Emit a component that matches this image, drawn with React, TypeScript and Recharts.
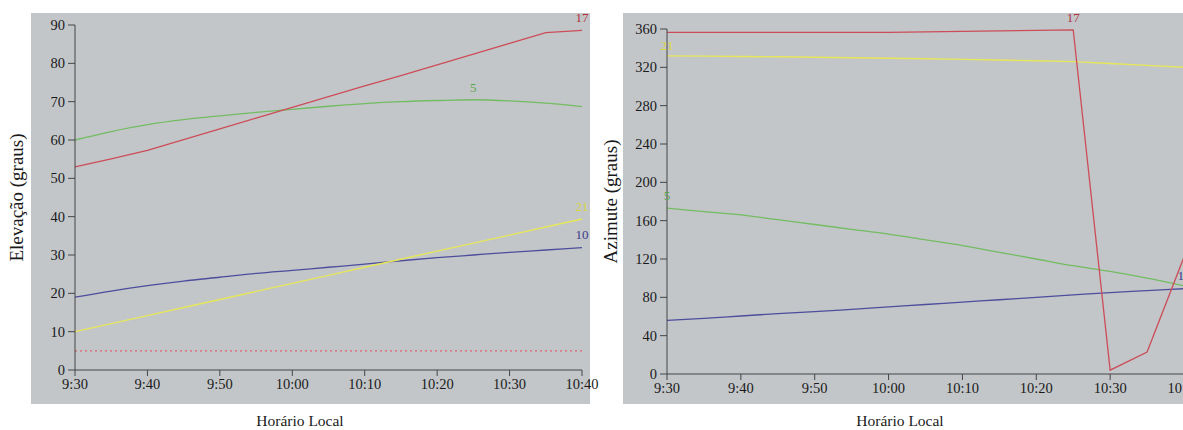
import { LineChart, Line, XAxis, YAxis } from 'recharts'

// minutes after 9:30, one point every 5 min
const minutes = [0, 5, 10, 15, 20, 25, 30, 35, 40, 45, 50, 55, 60, 65, 70]
const majorTicks = [0, 10, 20, 30, 40, 50, 60, 70]
const minorTicks = [0, 5, 10, 15, 20, 25, 30, 35, 40, 45, 50, 55, 60, 65, 70]
const timeLabels = ['9:30', '9:40', '9:50', '10:00', '10:10', '10:20', '10:30', '10:40']

const elevTicks = [0, 10, 20, 30, 40, 50, 60, 70, 80, 90]
const elevMinor = [0, 5, 10, 15, 20, 25, 30, 35, 40, 45, 50, 55, 60, 65, 70, 75, 80, 85, 90]
const azTicks = [0, 40, 80, 120, 160, 200, 240, 280, 320, 360]
const azMinor = [0, 20, 40, 60, 80, 100, 120, 140, 160, 180, 200, 220, 240, 260, 280, 300, 320, 340, 360]

// elevation (graus) per satellite
const elev17 = [53, 55.1, 57.3, 60.1, 62.9, 65.7, 68.5, 71.3, 74.1, 76.8, 79.6, 82.4, 85.2, 88, 88.6]
const elev5 = [60, 62.2, 64, 65.3, 66.3, 67.2, 68, 68.8, 69.5, 70, 70.3, 70.5, 70.2, 69.6, 68.7]
const elev10 = [19, 20.6, 22, 23.2, 24.2, 25.2, 26, 26.8, 27.6, 28.5, 29.3, 30, 30.7, 31.3, 31.9]
const elev21 = [10, 12.1, 14.2, 16.3, 18.4, 20.5, 22.6, 24.7, 26.8, 28.9, 31, 33.1, 35.2, 37.3, 39.4]
const elevMask = [5, 5, 5, 5, 5, 5, 5, 5, 5, 5, 5, 5, 5, 5, 5]

// azimuth (graus) per satellite
const az17 = [356.5, 356.5, 356.5, 356.5, 356.5, 356.5, 356.5, 357, 357.5, 358, 358.5, 359, 4, 23, 122]
const az21 = [332, 331.7, 331.3, 331, 330.5, 330, 329.5, 329, 328.3, 327.6, 326.8, 326, 324, 322, 320]
const az5 = [173, 169.5, 166, 161, 156, 151, 146, 140, 134, 127, 120, 113, 107, 100, 92]
const az10 = [56, 58, 60.5, 63, 65, 67.5, 70, 72.5, 75, 77.5, 80, 82.5, 85, 87, 89]

const RED = '#cc4d58'
const GREEN = '#72bc62'
const YELLOW = '#e6e65a'
const BLUE = '#4d4d9c'
const PANEL = '#c3c6c9'
const AXIS = '#444'
const FONT = '"Liberation Serif", "DejaVu Serif", serif'

const elevData = minutes.map((t, i) => ({
  t,
  s17: elev17[i],
  s5: elev5[i],
  s10: elev10[i],
  s21: elev21[i],
  mask: elevMask[i],
}))

const azData = minutes.map((t, i) => ({
  t,
  s17: az17[i],
  s21: az21[i],
  s5: az5[i],
  s10: az10[i],
}))

const fmtTime = (v: number) => timeLabels[majorTicks.indexOf(v)] ?? ''

// draws the satellite number next to one point of the line
const tagAt = (index: number, text: string, color: string, dy = -8) => (p: any) => {
  if (p.index !== index) return <g key={`d-${p.index}`} />
  return (
    <text key={`d-${p.index}`} x={p.cx} y={p.cy + dy} fill={color} fontSize={13} fontFamily={FONT} textAnchor="middle">
      {text}
    </text>
  )
}

const tickStyle = { fill: '#1a1a1a', fontSize: 14.5, fontFamily: FONT }
const yTitle = { textAnchor: 'middle', fill: '#1a1a1a', fontSize: 19, fontFamily: FONT }

function Panel({ left, width }: { left: number; width: number }) {
  return <div style={{ position: 'absolute', left, top: 13, width, height: 391, background: PANEL }} />
}

function XTitle({ center }: { center: number }) {
  return (
    <div style={{ position: 'absolute', left: center, top: 412, transform: 'translateX(-50%)', fontFamily: FONT, fontSize: 15.5, lineHeight: '18px', color: '#1a1a1a', whiteSpace: 'nowrap' }}>
      Horário Local
    </div>
  )
}

export default function App() {
  return (
    <div style={{ position: 'absolute', left: 0, top: 0, width: 1183, height: 430, overflow: 'hidden', background: '#fff' }}>
      <Panel left={31} width={559} />
      <Panel left={623} width={600} />
      <XTitle center={300} />
      <XTitle center={900} />

      <div style={{ position: 'absolute', left: 0, top: 0 }}>
        <LineChart width={600} height={430} data={elevData} margin={{ top: 25, right: 18, bottom: 0, left: 0 }}>
          <XAxis xAxisId="minor" dataKey="t" type="number" domain={[0, 70]} ticks={minorTicks} tick={false} tickSize={3} height={0} stroke={AXIS} strokeWidth={1.3} />
          <XAxis
            dataKey="t"
            type="number"
            domain={[0, 70]}
            ticks={majorTicks}
            tickFormatter={fmtTime}
            tickSize={6}
            tickMargin={3}
            height={60}
            stroke={AXIS}
            tick={tickStyle}
          />
          <YAxis yAxisId="minor" type="number" domain={[0, 90]} ticks={elevMinor} tick={false} tickSize={3} width={0} stroke={AXIS} strokeWidth={1.3} />
          <YAxis
            type="number"
            domain={[0, 90]}
            ticks={elevTicks}
            tickSize={7}
            tickMargin={3}
            width={75}
            stroke={AXIS}
            tick={tickStyle}
            label={{ value: 'Elevação (graus)', angle: -90, position: 'insideLeft', offset: 16, style: yTitle }}
          />
          <Line dataKey="mask" stroke="#e0606e" strokeWidth={1.2} strokeDasharray="2 3" dot={false} isAnimationActive={false} />
          <Line dataKey="s10" type="monotone" stroke={BLUE} strokeWidth={1.3} dot={tagAt(14, '10', '#3a3a8c', -9)} isAnimationActive={false} />
          <Line dataKey="s21" stroke={YELLOW} strokeWidth={1.4} dot={tagAt(14, '21', '#d8d840', -8)} isAnimationActive={false} />
          <Line dataKey="s5" type="monotone" stroke={GREEN} strokeWidth={1.3} dot={tagAt(11, '5', '#5aa84c', -8)} isAnimationActive={false} />
          <Line dataKey="s17" stroke={RED} strokeWidth={1.3} dot={tagAt(14, '17', '#b3323c', -8)} isAnimationActive={false} />
        </LineChart>
      </div>

      <div style={{ position: 'absolute', left: 592, top: 0 }}>
        <LineChart width={610} height={430} data={azData} margin={{ top: 29, right: 18, bottom: 0, left: 0 }}>
          <XAxis xAxisId="minor" dataKey="t" type="number" domain={[0, 70]} ticks={minorTicks} tick={false} tickSize={3} height={0} stroke={AXIS} strokeWidth={1.3} />
          <XAxis
            dataKey="t"
            type="number"
            domain={[0, 70]}
            ticks={majorTicks}
            tickFormatter={fmtTime}
            tickSize={6}
            tickMargin={3}
            height={56}
            stroke={AXIS}
            tick={tickStyle}
          />
          <YAxis yAxisId="minor" type="number" domain={[0, 360]} ticks={azMinor} tick={false} tickSize={3} width={0} stroke={AXIS} strokeWidth={1.3} />
          <YAxis
            type="number"
            domain={[0, 360]}
            ticks={azTicks}
            tickSize={7}
            tickMargin={3}
            width={75}
            stroke={AXIS}
            tick={tickStyle}
            label={{ value: 'Azimute (graus)', angle: -90, position: 'insideLeft', offset: 18, style: yTitle }}
          />
          <Line dataKey="s10" type="monotone" stroke={BLUE} strokeWidth={1.3} dot={tagAt(14, '10', '#3a3a8c', -9)} isAnimationActive={false} />
          <Line dataKey="s5" type="monotone" stroke={GREEN} strokeWidth={1.3} dot={tagAt(0, '5', '#5aa84c', -8)} isAnimationActive={false} />
          <Line dataKey="s21" stroke={YELLOW} strokeWidth={1.4} dot={tagAt(0, '21', '#d8d840', -6)} isAnimationActive={false} />
          <Line dataKey="s17" stroke={RED} strokeWidth={1.3} dot={tagAt(11, '17', '#b3323c', -8)} isAnimationActive={false} />
        </LineChart>
      </div>
    </div>
  )
}
